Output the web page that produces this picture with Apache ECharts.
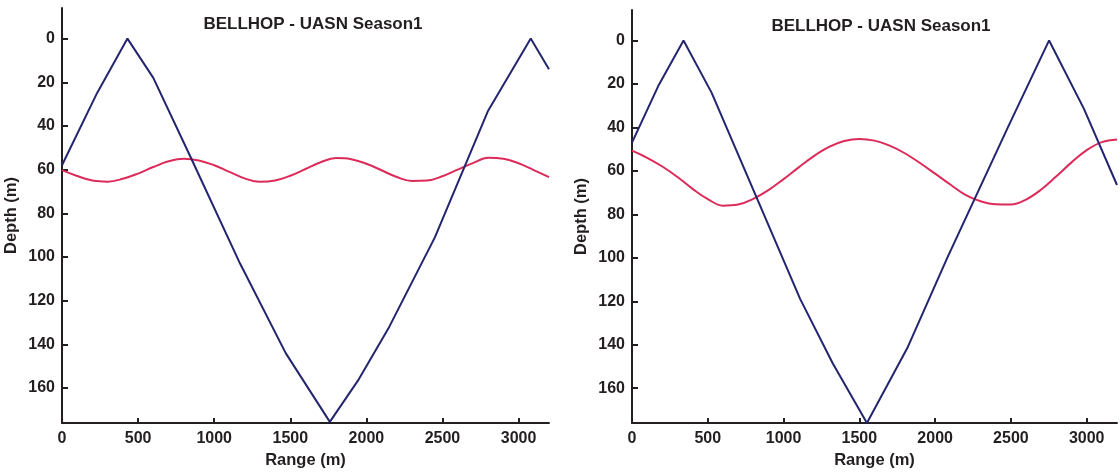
<!DOCTYPE html>
<html>
<head>
<meta charset="utf-8">
<title>BELLHOP - UASN Season1</title>
<script src="https://cdn.jsdelivr.net/npm/echarts@6/dist/echarts.min.js"></script>
<style>
  html, body { margin: 0; padding: 0; background: #fff; }
  #chart { width: 1120px; height: 474px; }
</style>
</head>
<body>
<div id="chart"></div>
<script>
// tick labels
var xTicks = [0, 500, 1000, 1500, 2000, 2500, 3000];
var yTicks = [0, 20, 40, 60, 80, 100, 120, 140, 160];
var titleText = 'BELLHOP - UASN Season1';

// left panel - navy line
var navyRangeL = [0, 230, 430, 600, 850, 1170, 1470, 1760, 1950, 2150, 2450, 2800, 3080, 3200];
var navyDepthL = [58, 25, 0, 18, 55, 103, 144, 175.5, 156, 132, 91, 33, 0, 14];
// left panel - red line (every 100 m)
var redRangeL = [0, 100, 200, 300, 400, 500, 600, 700, 800, 900, 1000, 1100, 1200, 1300, 1400, 1500, 1600,
  1700, 1800, 1900, 2000, 2100, 2200, 2300, 2400, 2500, 2600, 2700, 2800, 2900, 3000, 3100, 3200];
var redDepthL = [60.2, 62.9, 65.0, 65.5, 64.2, 61.8, 58.8, 56.2, 55.0, 55.8, 58.0, 61.0, 64.0, 65.6, 65.0, 62.8, 59.7,
  56.6, 54.7, 55.2, 57.3, 60.3, 63.4, 65.2, 65.0, 63.0, 60.0, 57.0, 54.6, 55.0, 57.1, 60.2, 63.4];

// right panel - navy line
var navyRangeR = [0, 173, 340, 525, 1110, 1325, 1550, 1820, 2080, 2480, 2752, 2982, 3200];
var navyDepthR = [47, 21, 0, 24, 119, 148.6, 176, 141, 100, 40, 0, 31.5, 66.5];
// right panel - red line (every 100 m)
var redRangeR = [0, 100, 200, 300, 400, 500, 600, 700, 800, 900, 1000, 1100, 1200, 1300, 1400, 1500, 1600,
  1700, 1800, 1900, 2000, 2100, 2200, 2300, 2400, 2500, 2600, 2700, 2800, 2900, 3000, 3100, 3200];
var redDepthR = [50.7, 54.0, 58.0, 62.8, 68.3, 73.0, 76.0, 75.5, 72.9, 68.9, 63.8, 58.4, 53.2, 49.0, 46.3, 45.3, 46.1,
  48.4, 51.9, 56.4, 61.3, 66.3, 71.0, 74.0, 75.4, 75.5, 73.2, 68.6, 62.5, 56.1, 50.5, 46.8, 45.6];

var NAVY = '#23256e';
var RED = '#dc2b5a';
var INK = '#231f20';
var FONT = 'Liberation Sans, Arial, sans-serif';

function zip(xs, ys){
  var res = [];
  for(var i = 0; i < xs.length; i++){
    res.push([xs[i], ys[i]]);
  }
  return res;
}

function plain(v){
  return String(v);
}

function makeXAxis(idx){
  return {
    type: 'value', gridIndex: idx, min: 0, max: 3200,
    name: 'Range (m)', nameLocation: 'middle', nameGap: 29,
    nameTextStyle: { color: INK, fontWeight: 'bold', fontSize: 16.5, fontFamily: FONT },
    axisLine: { show: true, onZero: false, lineStyle: { color: INK, width: 2 } },
    axisTick: { show: true, inside: true, length: 5, customValues: xTicks, lineStyle: { color: INK, width: 2 } },
    axisLabel: { color: INK, fontWeight: 'bold', fontSize: 16, fontFamily: FONT, margin: 8, customValues: xTicks, formatter: plain },
    splitLine: { show: false }
  };
}

function makeYAxis(idx){
  return {
    type: 'value', gridIndex: idx, min: -14, max: 176, inverse: true,
    name: 'Depth (m)', nameLocation: 'middle', nameGap: 42,
    nameTextStyle: { color: INK, fontWeight: 'bold', fontSize: 16.5, fontFamily: FONT },
    axisLine: { show: true, onZero: false, lineStyle: { color: INK, width: 2 } },
    axisTick: { show: true, inside: true, length: 6, customValues: yTicks, lineStyle: { color: INK, width: 2 } },
    axisLabel: { color: INK, fontWeight: 'bold', fontSize: 16, fontFamily: FONT, margin: 7, customValues: yTicks, formatter: plain },
    splitLine: { show: false }
  };
}

function makeLine(idx, data, color, smooth){
  return {
    type: 'line', xAxisIndex: idx, yAxisIndex: idx,
    data: data, smooth: smooth,
    showSymbol: false, silent: true,
    lineStyle: { color: color, width: 2 },
    animation: false
  };
}

window.onload = function(){
  var myChart = echarts.init(document.getElementById('chart'));
  myChart.setOption({
    backgroundColor: '#fff',
    animation: false,
    title: [
      { text: titleText, left: 308, top: 11, textAlign: 'center',
        textStyle: { color: INK, fontWeight: 'bold', fontSize: 17, fontFamily: FONT } },
      { text: titleText, left: 876, top: 13, textAlign: 'center',
        textStyle: { color: INK, fontWeight: 'bold', fontSize: 17, fontFamily: FONT } }
    ],
    grid: [
      { left: 62, right: 571, top: 8, bottom: 51 },
      { left: 632, right: 3, top: 10, bottom: 49 }
    ],
    xAxis: [makeXAxis(0), makeXAxis(1)],
    yAxis: [makeYAxis(0), makeYAxis(1)],
    series: [
      makeLine(0, zip(redRangeL, redDepthL), RED, 0.4),
      makeLine(0, zip(navyRangeL, navyDepthL), NAVY, false),
      makeLine(1, zip(redRangeR, redDepthR), RED, 0.4),
      makeLine(1, zip(navyRangeR, navyDepthR), NAVY, false)
    ]
  });
};
</script>
</body>
</html>
